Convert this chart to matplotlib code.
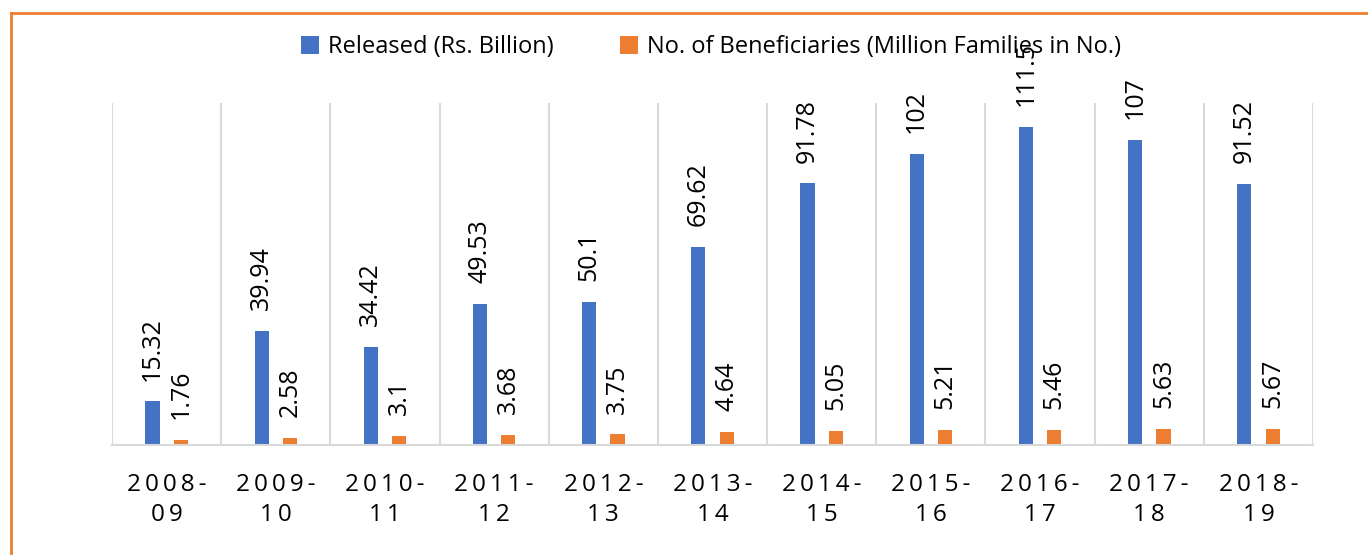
import numpy as np
import matplotlib
matplotlib.use("Agg")
import matplotlib.pyplot as plt
from matplotlib.lines import Line2D

# yearly figures
years = ["2008-09", "2009-10", "2010-11", "2011-12", "2012-13", "2013-14",
         "2014-15", "2015-16", "2016-17", "2017-18", "2018-19"]
released = [15.32, 39.94, 34.42, 49.53, 50.1, 69.62, 91.78, 102, 111.5, 107, 91.52]
beneficiaries = [1.76, 2.58, 3.1, 3.68, 3.75, 4.64, 5.05, 5.21, 5.46, 5.63, 5.67]

blue = "#4472C4"
orange = "#ED7D31"
grid_c = "#D9D9D9"
num_font = ["Open Sans", "DejaVu Sans"]

fig = plt.figure(figsize=(13.68, 5.55), dpi=100)
ax = fig.add_axes([0.0819, 0.198, 0.8779, 0.6164])

x = np.arange(len(years))
w = 0.13
b1 = ax.bar(x - w, released, width=w, color=blue, label="Released (Rs. Billion)")
b2 = ax.bar(x + w, beneficiaries, width=w, color=orange,
            label="No. of Beneficiaries (Million Families in No.)")

def fmt(v):
    return ("%g" % v)

for bars, vals in ((b1, released), (b2, beneficiaries)):
    for r, v in zip(bars, vals):
        ax.annotate(fmt(v), (r.get_x() + r.get_width() / 2, r.get_height()),
                    xytext=(0, 15), textcoords="offset points",
                    rotation=90, ha="center", va="bottom",
                    fontsize=18, family=num_font, color="#000000",
                    annotation_clip=False)

ax.set_xlim(-0.5, len(years) - 0.5)
ax.set_ylim(0, 120)
ax.set_yticks([])

# category labels with a little extra letter spacing
tick_labels = ["\u2009".join(y.split("-")[0]) + "\u2009-\n" + "\u2009".join(y.split("-")[1])
               for y in years]
ax.set_xticks(x)
ax.set_xticklabels(tick_labels, fontsize=17.5, family=num_font, linespacing=1.35)
ax.tick_params(axis="x", which="major", length=0, pad=20)

# vertical separators between categories
ax.set_xticks(np.arange(-0.5, len(years)), minor=True)
ax.tick_params(axis="x", which="minor", length=0)
ax.grid(True, which="minor", axis="x", color=grid_c, lw=1.5)
ax.grid(False, which="major")
for line in ax.get_xgridlines():
    line.set_clip_on(False)

for s in ("top", "left", "right"):
    ax.spines[s].set_visible(False)
ax.spines["bottom"].set_color(grid_c)
ax.spines["bottom"].set_linewidth(1.5)

leg = fig.legend(loc="center", bbox_to_anchor=(0.52, 0.915), ncol=2, frameon=False,
                 prop={"family": ["Liberation Sans Narrow", "Open Sans"], "size": 17},
                 handlelength=0.75, handleheight=0.75, handletextpad=0.4,
                 columnspacing=2.8)
leg.set_zorder(5)

# orange frame around the figure box
fig.add_artist(Line2D([11 / 1368, 1], [1 - 12.5 / 555, 1 - 12.5 / 555],
                      transform=fig.transFigure, color=orange, lw=2))
fig.add_artist(Line2D([11 / 1368, 11 / 1368], [0, 1 - 12.5 / 555],
                      transform=fig.transFigure, color=orange, lw=2))

fig.savefig("out.png", dpi=100)
